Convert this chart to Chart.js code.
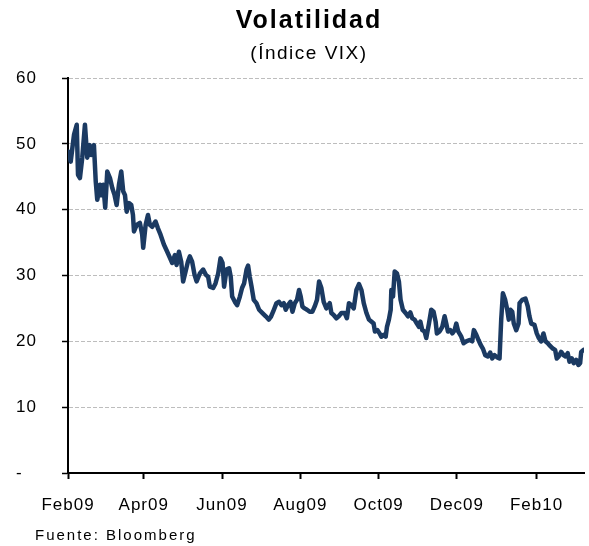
<!DOCTYPE html>
<html>
<head>
<meta charset="utf-8">
<script src="https://cdn.jsdelivr.net/npm/chart.js@4/dist/chart.umd.min.js"></script>
<style>
    body { margin: 0; background: #fff; }
    #wrap { position: relative; width: 589px; height: 546px; font-family: "Liberation Sans", Arial, sans-serif; color: #000; }
    #chart-box { position: absolute; left: 0; top: 0; width: 589px; height: 546px; }
    .txt { position: absolute; white-space: nowrap; }
    #title { left: 0; top: 7px; width: 560px; padding-left: 29px; text-align: center; font-size: 25px; line-height: 25px; font-weight: bold; letter-spacing: 2px; }
    #subtitle { left: 0; top: 43px; width: 560px; padding-left: 29px; text-align: center; font-size: 19px; line-height: 19px; letter-spacing: 1.5px; }
    #source { left: 35px; top: 527px; font-size: 15px; line-height: 15px; letter-spacing: 2px; }
</style>
</head>
<body>
<div id="wrap">
    <div id="chart-box"><canvas id="vixChart"></canvas></div>
    <div class="txt" id="title">Volatilidad</div>
    <div class="txt" id="subtitle">(Índice VIX)</div>
    <div class="txt" id="source">Fuente: Bloomberg</div>
</div>
<script>
// days counted from 1 Feb 2009
let vixDays = [
    0.5, 2.1, 4.7, 6.8, 7.8, 9.3, 11.1, 13.2, 15.0, 16.9, 18.1, 20.2, 21.6, 22.8, 24.9, 26.2, 27.5, 29.0,
    30.6, 32.7, 34.5, 36.3, 37.9, 39.7, 41.5, 43.0, 44.4, 45.7, 47.5, 49.3, 50.6, 51.4, 53.5, 56.0, 57.8, 58.6,
    60.5, 62.3, 63.8, 65.6, 68.2, 70.0, 72.1, 74.7, 77.3, 79.4, 81.2, 83.3, 84.6, 86.4, 88.2, 89.7, 91.6, 93.4,
    94.9, 96.7, 98.6, 100.2, 102.7, 105.3, 107.4, 109.2, 110.5, 113.1, 114.9, 117.0, 118.8, 120.4, 121.6, 123.5,
    125.5, 126.8, 127.9, 130.0, 131.8, 133.9, 135.6, 137.2, 139.1, 140.3, 141.6, 143.0, 144.7, 146.8, 148.9,
    151.5, 154.1, 156.4, 158.0, 159.8, 162.4, 164.4, 166.3, 168.1, 169.6, 171.4, 173.3, 174.9, 176.7, 178.4,
    180.0, 181.3, 182.6, 184.4, 186.2, 188.3, 190.4, 192.2, 194.0, 195.6, 197.4, 199.2, 201.3, 203.9, 205.2,
    207.0, 209.1, 210.9, 213.0, 215.6, 217.3, 218.9, 220.8, 222.6, 224.7, 226.7, 228.6, 230.4, 232.5, 234.5,
    236.3, 238.1, 239.1, 241.0, 242.8, 244.1, 245.9, 247.5, 248.5, 250.0, 251.4, 251.9, 253.2, 254.5, 256.3,
    257.8, 259.1, 260.9, 263.0, 264.8, 266.7, 268.2, 270.0, 271.8, 273.4, 274.5, 276.0, 277.8, 279.1, 281.2,
    283.0, 284.8, 286.4, 287.4, 289.5, 291.6, 293.4, 294.7, 296.0, 297.8, 299.4, 301.2, 302.5, 304.0, 306.4,
    308.2, 310.3, 312.8, 314.9, 316.2, 318.1, 319.8, 321.4, 323.2, 325.1, 327.1, 328.9, 330.5, 332.3, 334.1,
    336.2, 337.5, 338.8, 340.6, 342.2, 343.4, 344.7, 346.1, 347.3, 349.2, 351.0, 351.8, 353.9, 356.4, 358.2,
    359.5, 360.9, 363.4, 365.2, 366.8, 368.6, 370.4, 372.0, 373.8, 375.6, 377.7, 379.5, 380.8, 382.3, 384.2,
    386.0, 387.5, 389.3, 390.7, 392.5, 394.0, 395.9, 397.7, 399.0, 399.8, 401.6];
let vixValues = [
    48.8, 47.3, 51.4, 52.9, 45.3, 44.8, 47.9, 52.9, 47.9, 49.8, 48.3, 49.8, 44.3, 41.5, 43.8, 42.2, 43.8, 40.3,
    45.8, 44.8, 43.3, 42.2, 40.7, 43.8, 45.8, 42.8, 42.2, 39.7, 41.0, 40.7, 39.2, 36.7, 37.7, 38.0, 36.2, 34.2,
    37.7, 39.2, 37.7, 37.4, 38.2, 37.2, 36.2, 34.7, 33.6, 32.7, 31.9, 33.1, 31.6, 33.6, 32.1, 29.1, 30.6, 32.1,
    32.9, 32.1, 30.1, 29.1, 30.3, 30.9, 30.1, 29.8, 28.3, 28.1, 28.8, 30.3, 32.6, 31.9, 28.3, 30.9,
    31.1, 29.8, 26.8, 26.0, 25.5, 26.8, 28.1, 28.8, 30.9, 31.5, 29.8, 28.3, 26.3, 25.8, 24.8,
    24.3, 23.8, 23.3, 23.7, 24.5, 25.8, 26.0, 25.5, 25.8, 24.8, 25.5, 26.0, 24.5, 25.8, 26.3,
    27.8, 26.8, 25.3, 25.0, 24.8, 24.5, 24.5, 25.3, 26.3, 29.1, 28.1, 26.0, 25.0, 25.8, 24.3,
    24.0, 23.5, 23.8, 24.3, 24.3, 23.5, 25.8, 25.5, 25.0, 27.8, 28.7, 27.8, 25.8, 24.3, 23.3,
    23.0, 22.7, 21.5, 21.7, 21.2, 20.7, 21.0, 20.7, 22.2, 23.3, 24.8, 27.8, 26.8, 30.6, 30.3,
    29.1, 26.3, 24.8, 24.3, 23.8, 24.4, 23.5, 23.3, 22.7, 22.2, 23.0, 21.7, 21.5, 20.5, 22.7,
    24.8, 24.5, 23.0, 21.2, 21.5, 22.2, 23.8, 22.7, 21.5, 21.7, 21.2, 21.7, 22.7, 21.5, 20.7,
    19.7, 20.0, 20.2, 20.0, 21.7, 21.0, 20.2, 19.5, 18.9, 17.9, 17.7, 18.3, 17.4, 17.9, 17.6,
    17.4, 23.3, 27.3, 26.3, 24.8, 23.3, 24.8, 24.5, 22.7, 21.7, 22.7, 25.8, 26.3, 26.5, 25.3,
    23.8, 22.7, 22.5, 21.2, 20.5, 20.0, 21.2, 20.0, 19.7, 19.3, 18.9, 18.7, 17.4, 17.7, 18.4,
    17.9, 17.7, 18.2, 16.9, 17.4, 16.7, 17.2, 16.4, 16.7, 18.4, 18.7];

let tickDays = [0, 59, 120, 181, 242, 303, 365];
let tickLabels = ["Feb09", "Apr09", "Jun09", "Aug09", "Oct09", "Dec09", "Feb10"];

let lineColor = "#1b3a62";
let chartGraph;

// canvas text is drawn with a bit of tracking, like the original
const spacingPlugin = {
    id: "spacing",
    beforeUpdate: function(chart) { chart.ctx.letterSpacing = "1px"; },
    beforeDraw: function(chart) { chart.ctx.letterSpacing = "1px"; }
};

function initChart() {
    let points = vixDays.map((d, i) => ({ x: d, y: vixValues[i] }));

    let data = {
        datasets: [{
            data: points,
            borderColor: lineColor,
            borderWidth: 4.5,
            borderJoinStyle: "round",
            borderCapStyle: "round",
            pointRadius: 0,
            tension: 0,
            fill: false
        }]
    };

    let options = {
        responsive: true,
        maintainAspectRatio: false,
        animation: false,
        layout: {
            padding: { top: 78, left: 16, right: 5, bottom: 33 }
        },
        plugins: {
            legend: { display: false },
            tooltip: { enabled: false }
        },
        scales: {
            x: {
                type: "linear",
                min: 0,
                max: 402,
                offset: false,
                afterBuildTicks: function(scale) {
                    scale.ticks = tickDays.map(v => ({ value: v }));
                },
                afterFit: function(scale) {
                    scale.height = 40;
                },
                ticks: {
                    autoSkip: false,
                    maxRotation: 0,
                    padding: 16,
                    color: "#000",
                    font: { family: "Liberation Sans", size: 17 },
                    callback: function(value) {
                        let idx = tickDays.indexOf(value);
                        return idx >= 0 ? tickLabels[idx] : "";
                    }
                },
                grid: {
                    drawOnChartArea: false,
                    drawTicks: true,
                    tickLength: 6,
                    tickColor: "#000",
                    tickWidth: 2
                },
                border: { display: true, color: "#000", width: 2 }
            },
            y: {
                min: 0,
                max: 60,
                afterFit: function(scale) {
                    scale.width = 52;
                },
                ticks: {
                    stepSize: 10,
                    padding: 25,
                    crossAlign: "far",
                    color: "#000",
                    font: { family: "Liberation Sans", size: 17 },
                    callback: function(value) {
                        return value === 0 ? "-" : value;
                    }
                },
                grid: {
                    color: function(ctx) {
                        return ctx.tick && ctx.tick.value === 0 ? "rgba(0,0,0,0)" : "#bdbdbd";
                    },
                    lineWidth: 1,
                    drawTicks: true,
                    tickLength: 6,
                    tickColor: "#000",
                    tickWidth: 1.5,
                    tickBorderDash: []
                },
                border: { display: true, color: "#000", width: 2, dash: [4, 2] }
            }
        }
    };

    let ctx = document.getElementById("vixChart").getContext("2d");
    chartGraph = new Chart(ctx, {
        type: "line",
        data: data,
        options: options,
        plugins: [spacingPlugin]
    });
}

initChart();
</script>
</body>
</html>
